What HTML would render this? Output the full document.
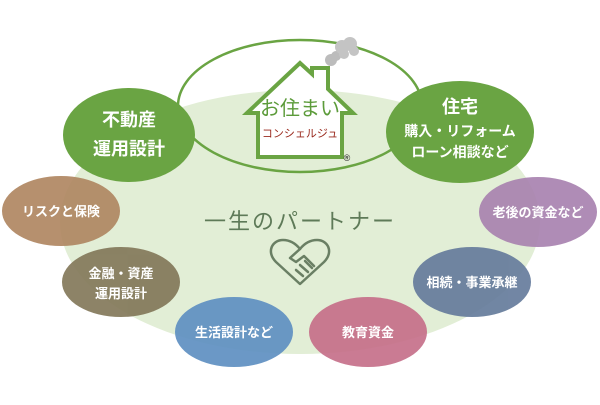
<!DOCTYPE html>
<html><head><meta charset="utf-8"><style>
html,body{margin:0;padding:0;background:#fff;}
svg text{font-family:"Liberation Sans","Noto Sans CJK JP",sans-serif;}
</style></head><body>
<svg width="600" height="400" viewBox="0 0 600 400" xmlns="http://www.w3.org/2000/svg">
<ellipse cx="300" cy="222" rx="240" ry="132" fill="#e2eed6"/>
<ellipse cx="300" cy="106" rx="122" ry="66" fill="none" stroke="#6aa443" stroke-width="2.5"/>
<ellipse cx="129" cy="135" rx="66" ry="47" fill="#6aa443"/>
<ellipse cx="460" cy="132" rx="74" ry="51" fill="#6aa443"/>
<g opacity="0.92">
<ellipse cx="61" cy="211" rx="59" ry="35" fill="#b08762"/>
<ellipse cx="121" cy="282" rx="59" ry="35" fill="#83785a"/>
<ellipse cx="234" cy="332" rx="59" ry="35" fill="#5f90c2"/>
<ellipse cx="368" cy="332" rx="59" ry="35" fill="#c6708a"/>
<ellipse cx="472" cy="282" rx="59" ry="35" fill="#667c9c"/>
<ellipse cx="538" cy="212" rx="59" ry="35" fill="#a983b0"/>
</g>
<!-- smoke -->
<circle cx="331" cy="60" r="6" fill="#bcbcbc"/><circle cx="336" cy="56" r="5" fill="#bcbcbc"/>
<circle cx="342" cy="47" r="7" fill="#c4c4c4"/><circle cx="350" cy="44" r="7" fill="#c4c4c4"/><circle cx="354" cy="51" r="5" fill="#c4c4c4"/><circle cx="344" cy="54" r="5" fill="#c4c4c4"/>
<!-- house -->
<path d="M247 113 L300 63 L312 74 L312 68 L328 68 L328 89 L353 113 L342 113 L342 157 L258 157 L258 113 Z" fill="#fff" stroke="#6aa443" stroke-width="4" stroke-linejoin="miter"/>
<text x="300" y="115" font-size="20" fill="#5c9b3a" text-anchor="middle">お住まい</text>
<text x="300" y="137" font-size="11" fill="#9a2a1e" text-anchor="middle">コンシェルジュ</text>
<text x="347" y="161" font-size="9" fill="#222" text-anchor="middle">®</text>
<g fill="#fff" font-weight="bold" text-anchor="middle">
<text x="129" y="126" font-size="18">不動産</text>
<text x="129" y="155" font-size="18">運用設計</text>
<text x="460" y="113" font-size="18">住宅</text>
<text x="460" y="136" font-size="14">購入・リフォーム</text>
<text x="460" y="157" font-size="14">ローン相談など</text>
<text x="61" y="216" font-size="13">リスクと保険</text>
<text x="121" y="278" font-size="13">金融・資産</text>
<text x="121" y="298" font-size="13">運用設計</text>
<text x="234" y="337" font-size="13">生活設計など</text>
<text x="368" y="337" font-size="13">教育資金</text>
<text x="472" y="287" font-size="13">相続・事業承継</text>
<text x="538" y="217" font-size="13">老後の資金など</text>
</g>
<text x="300" y="229" font-size="22" fill="#5e7a58" text-anchor="middle" letter-spacing="2">一生のパートナー</text>
<!-- heart handshake -->
<g fill="none" stroke="#6a7f64" stroke-width="2.5" stroke-linejoin="round" stroke-linecap="round">
<path d="M300 284 L276 262 C266 252 272 240 283 240 C290 240 296 244 300 249 C304 244 310 240 317 240 C328 240 334 252 324 262 Z"/>
<path d="M300 249 L290 258 L296 262 L304 256 L314 266"/>
<path d="M303 276 L296 270 M308 272 L300 265 M312 268 L305 261"/>
</g>
</svg>
</body></html>
